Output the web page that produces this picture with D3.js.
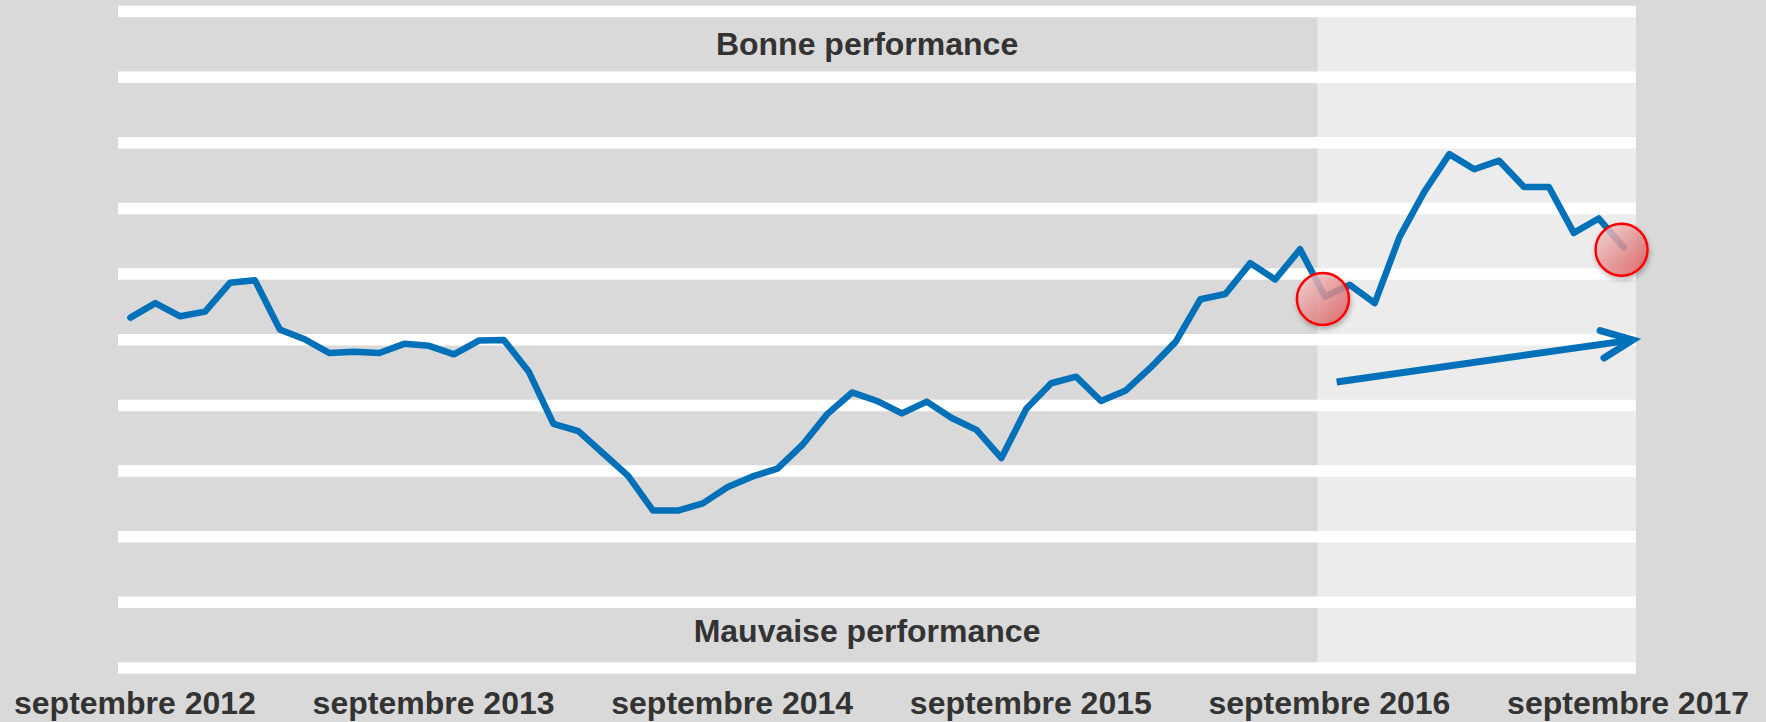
<!DOCTYPE html>
<html>
<head>
<meta charset="utf-8">
<script src="https://cdn.jsdelivr.net/npm/d3@7"></script>
<style>
  body { margin: 0; background: #d9d9d9; }
  svg { display: block; font-family: "Liberation Sans", Arial, sans-serif; }
</style>
</head>
<body>
<svg id="chart" width="1766" height="722"></svg>
<script>
// monthly index, septembre 2012 -> septembre 2017
const values = [
  53.3, 55.5, 53.5, 54.2, 58.6, 59.0, 51.5, 50.0, 47.9, 48.1, 47.9, 49.3,
  49.0, 47.7, 49.8, 49.9, 45.1, 37.1, 36.0, 32.6, 29.2, 23.9, 23.9, 25.0,
  27.5, 29.1, 30.3, 33.9, 38.6, 41.9, 40.6, 38.7, 40.5, 38.0, 36.2, 31.9,
  39.4, 43.3, 44.3, 40.6, 42.2, 45.7, 49.6, 56.1, 56.9, 61.6, 59.1, 63.7,
  56.5, 58.3, 55.5, 65.6, 72.5, 78.2, 75.9, 77.2, 73.2, 73.2, 66.2, 68.4,
  64.0
];
const tickIdx = [0, 12, 24, 36, 48, 60];
const tickLabels = ["septembre 2012", "septembre 2013", "septembre 2014",
                    "septembre 2015", "septembre 2016", "septembre 2017"];
const gridValues = [0, 10, 20, 30, 40, 50, 60, 70, 80, 90, 100];

// annotations (index / value units)
const shadeFrom = 47.7;
const circleIdx = [48, 60];
const arrowFrom = [48.47, 43.5];
const arrowTo = [60.37, 49.9];

const blue = "#0071b9";
const svg = d3.select("#chart");

const x = d3.scaleLinear().domain([-0.5, values.length - 0.5]).range([118, 1636]);
const y = d3.scaleLinear().domain([0, 100]).range([667.5, 11]);

const defs = svg.append("defs");
const grad = defs.append("linearGradient").attr("id", "redfill")
  .attr("x1", "0%").attr("y1", "0%").attr("x2", "100%").attr("y2", "100%");
grad.append("stop").attr("offset", "0%").attr("stop-color", "#fbd9d9");
grad.append("stop").attr("offset", "100%").attr("stop-color", "#dc4f4f");
defs.append("filter").attr("id", "shadow")
  .attr("x", "-50%").attr("y", "-50%").attr("width", "200%").attr("height", "200%")
  .append("feDropShadow")
  .attr("dx", 1).attr("dy", 3).attr("stdDeviation", 2.5)
  .attr("flood-color", "#000").attr("flood-opacity", 0.3);

// lighter zone on the right
svg.append("rect")
  .attr("x", x(shadeFrom))
  .attr("y", y(100))
  .attr("width", x(values.length - 0.5) - x(shadeFrom))
  .attr("height", y(0) - y(100))
  .attr("fill", "#ececec");

// thick white gridlines
const grid = svg.append("g")
  .attr("transform", `translate(${x.range()[0]},0)`)
  .call(d3.axisLeft(y).tickValues(gridValues).tickSize(-(x.range()[1] - x.range()[0])).tickFormat(""));
grid.select(".domain").remove();
grid.selectAll("line").attr("stroke", "#fff").attr("stroke-width", 11.5);

// band labels
svg.append("text")
  .text("Bonne performance")
  .attr("x", x(29.6)).attr("y", y(95)).attr("dy", "0.35em")
  .attr("text-anchor", "middle")
  .style("font-size", "32px").style("font-weight", "bold").attr("fill", "#333");
svg.append("text")
  .text("Mauvaise performance")
  .attr("x", x(29.6)).attr("y", y(5)).attr("dy", "0.22em")
  .attr("text-anchor", "middle")
  .style("font-size", "32px").style("font-weight", "bold").attr("fill", "#333");

// x axis labels
const xAxis = svg.append("g")
  .attr("transform", "translate(0,714)")
  .call(d3.axisBottom(x).tickValues(tickIdx).tickSize(0).tickFormat((d, i) => tickLabels[i]));
xAxis.select(".domain").remove();
xAxis.selectAll("text")
  .attr("y", 0).attr("dy", 0).attr("dx", 4)
  .attr("fill", "#333")
  .style("font-size", "32px").style("font-weight", "bold")
  .style("font-family", "'Liberation Sans', Arial, sans-serif");

// series line
const line = d3.line().x((d, i) => x(i)).y(d => y(d));
svg.append("path")
  .datum(values)
  .attr("d", line)
  .attr("fill", "none")
  .attr("stroke", blue)
  .attr("stroke-width", 6.5)
  .attr("stroke-linejoin", "round")
  .attr("stroke-linecap", "round");

// trend arrow
const x0 = x(arrowFrom[0]), y0 = y(arrowFrom[1]);
const x1 = x(arrowTo[0]), y1 = y(arrowTo[1]);
const ang = Math.atan2(y0 - y1, x0 - x1);
const head = 34, spread = 24 * Math.PI / 180;
const arrow = svg.append("g")
  .attr("stroke", blue).attr("stroke-width", 7)
  .attr("stroke-linecap", "round").attr("fill", "none");
arrow.append("line")
  .attr("x1", x0).attr("y1", y0).attr("x2", x1).attr("y2", y1)
  .attr("stroke-linecap", "butt");
arrow.append("path")
  .attr("stroke-linejoin", "miter")
  .attr("d", `M${x1 + head * Math.cos(ang + spread)},${y1 + head * Math.sin(ang + spread)}` +
             `L${x1},${y1}` +
             `L${x1 + head * Math.cos(ang - spread)},${y1 + head * Math.sin(ang - spread)}`);

// red markers
svg.selectAll("circle.mark")
  .data(circleIdx)
  .enter()
  .append("circle")
  .attr("class", "mark")
  .attr("cx", d => x(d) - 2)
  .attr("cy", d => y(values[d]) + 2.5)
  .attr("r", 26)
  .attr("fill", "url(#redfill)")
  .attr("fill-opacity", 0.78)
  .attr("stroke", "#ff0000")
  .attr("stroke-width", 2.5)
  .attr("filter", "url(#shadow)");
</script>
</body>
</html>
